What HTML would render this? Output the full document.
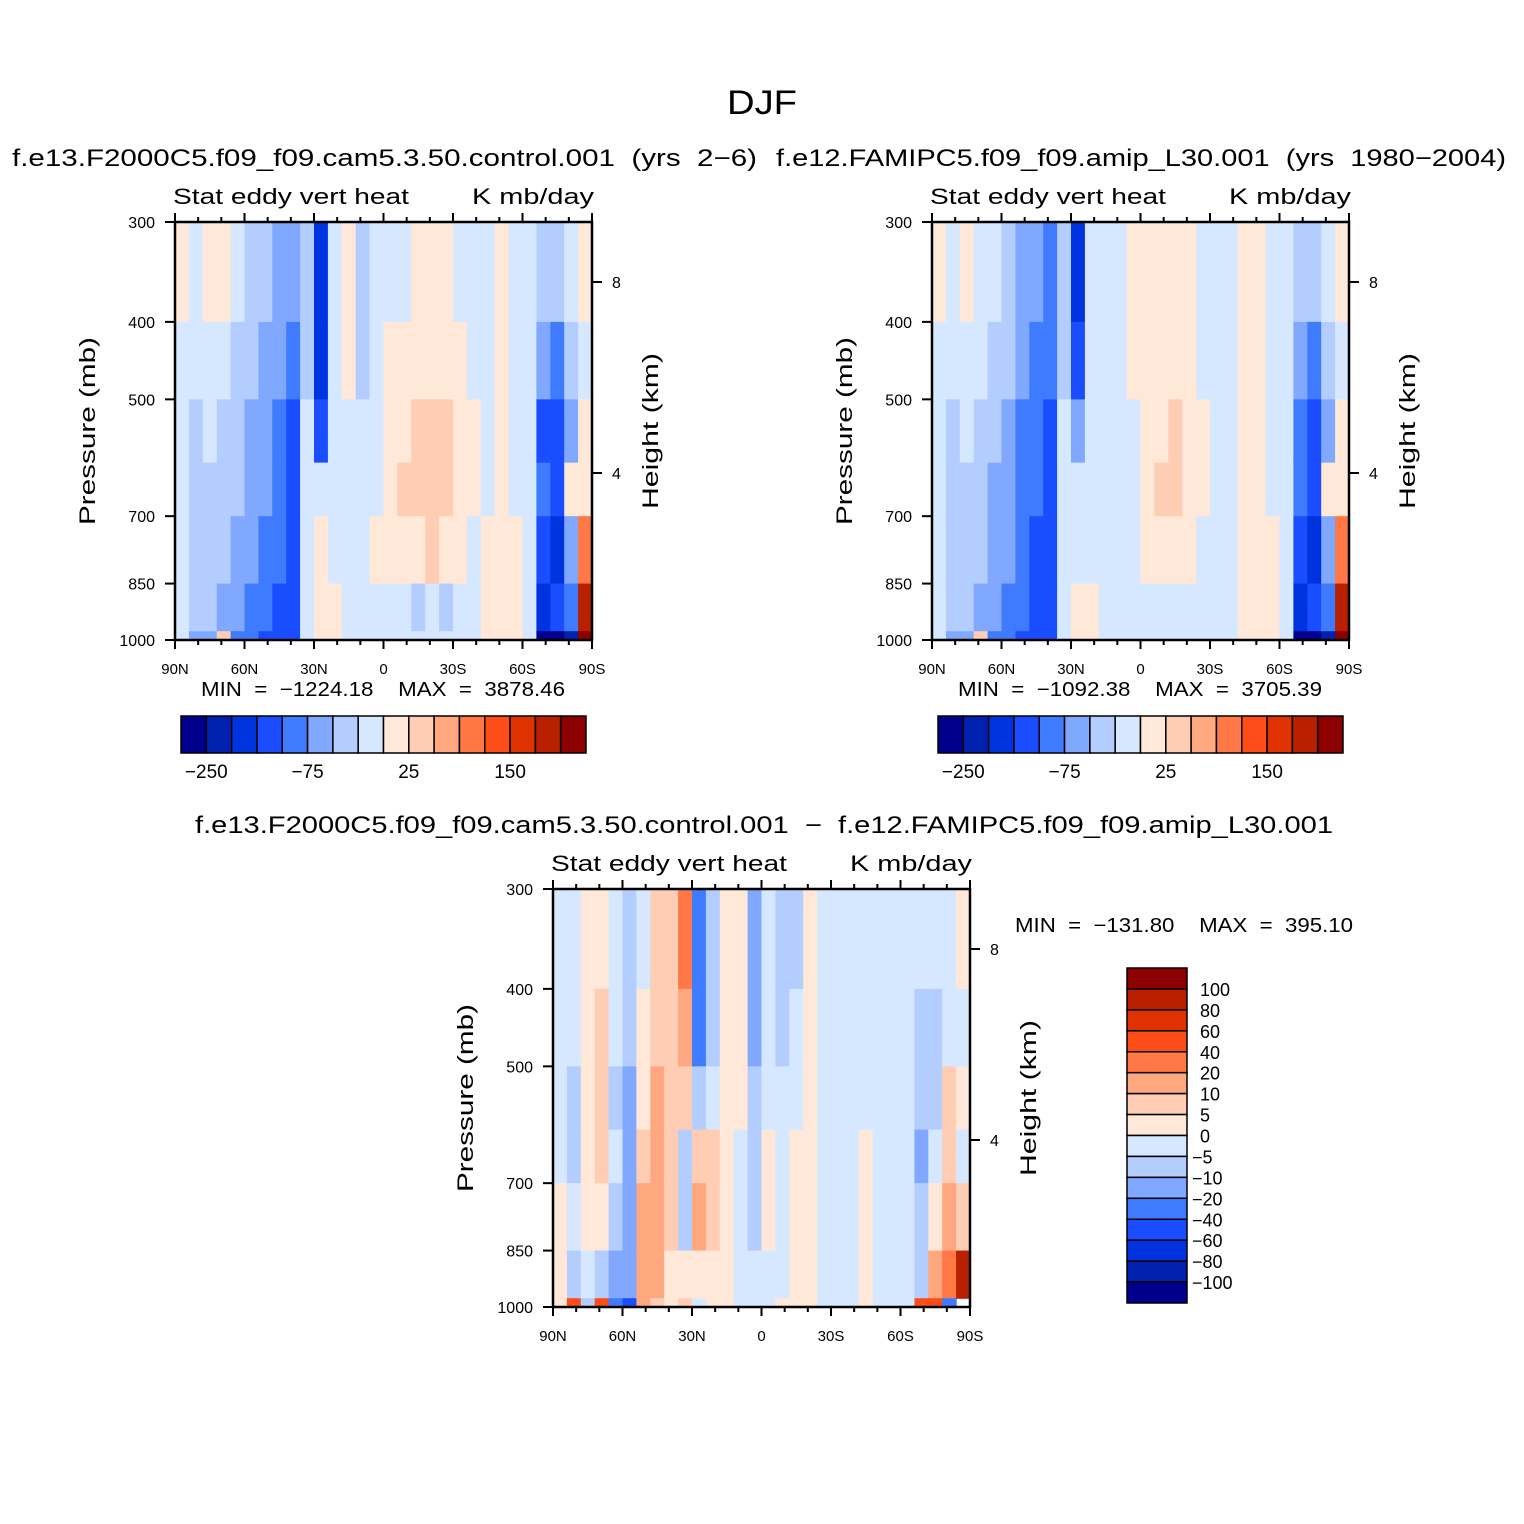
<!DOCTYPE html>
<html><head><meta charset="utf-8"><style>
html,body{margin:0;padding:0;background:#fff;}
svg{display:block;font-family:"Liberation Sans",sans-serif;}
text{white-space:pre;}
</style></head><body>
<svg id="fig" width="1524" height="1524" viewBox="0 0 1524 1524" xmlns="http://www.w3.org/2000/svg">
<text x="762" y="114" font-size="34" text-anchor="middle" textLength="70" lengthAdjust="spacingAndGlyphs">DJF</text>
<g id="root"></g>
</svg>
<script>
// ---- data ----
const lats = [90,84,78,72,66,60,54,48,42,36,30,24,18,12,6,0,-6,-12,-18,-24,-30,-36,-42,-48,-54,-60,-66,-72,-78,-84,-90];
const pEdges = [300,400,500,600,700,850,975,1000];
const levels1 = [-250,-200,-150,-100,-75,-50,-25,0,25,50,75,100,150,200,250];
const levels3 = [-100,-80,-60,-40,-20,-10,-5,0,5,10,20,40,60,80,100];
const cbLabels1 = ["−250","−75","25","150"];
const cbLabels3 = ["100","80","60","40","20","10","5","0","−5","−10","−20","−40","−60","−80","−100"];
const xTickLabels = ["90N","60N","30N","0","30S","60S","90S"];
const pTicks = [300,400,500,700,850,1000];
const hTicks = [8,4];
const colors = ["#00008c","#0021b0","#0033e0","#1a4dff","#3f7bff","#80a8ff","#b4cdff","#d6e8ff","#ffe8d8","#ffcdb3","#ffa880","#ff7845","#ff4d1a","#e03200","#b82000","#8c0000"];
// columns 90N->90S, each 7 rows top(300mb)->bottom(1000mb)
const data1 = [
[10,-10,-10,-10,-10,-10,-10],[-10,-10,-40,-40,-40,-40,-60],[10,-10,-10,-40,-40,-40,-60],[10,-10,-40,-40,-40,-60,40],
[-10,-40,-40,-40,-60,-60,-90],[-40,-40,-60,-60,-60,-90,-90],[-40,-60,-60,-60,-90,-90,-120],[-60,-60,-90,-90,-90,-120,-120],
[-60,-90,-120,-120,-120,-120,-120],[-40,-40,-10,-10,-10,-10,-10],[-170,-170,-120,-10,10,10,10],[-10,-10,-10,-10,-10,10,10],
[10,10,-10,-10,-10,-10,-10],[-40,-40,-10,-10,-10,-10,-10],[-10,-10,-10,-10,10,-10,-10],[-10,10,10,10,10,-10,-10],
[-10,10,10,40,10,-10,-10],[10,10,40,40,10,-40,-10],[10,10,40,40,40,-10,-10],[10,10,40,40,10,-40,-10],
[-10,10,10,10,10,-10,-10],[-10,-10,10,10,-10,-10,-10],[-10,-10,-10,-10,10,10,10],[10,10,10,10,10,10,10],
[-10,-10,-10,-10,10,10,10],[-10,-10,-10,-10,-10,-10,-10],[-40,-60,-120,-90,-120,-170,-300],[-40,-90,-120,-120,-170,-120,-300],
[-10,-40,-60,10,-60,-90,-250],[10,-10,10,10,90,200,300]];
const data2 = [
[10,-10,-10,-10,-10,-10,-10],[-10,-10,-40,-40,-40,-40,-60],[10,-10,-10,-40,-40,-40,-60],[-10,-10,-40,-40,-40,-60,40],
[-10,-40,-40,-60,-60,-60,-90],[-40,-40,-60,-60,-60,-90,-90],[-60,-60,-90,-90,-90,-90,-120],[-60,-90,-90,-90,-120,-120,-120],
[-90,-90,-120,-120,-120,-120,-120],[-40,-40,-10,-10,-10,-10,-10],[-170,-120,-60,-10,-10,10,10],[-10,-10,-10,-10,-10,10,10],
[-10,-10,-10,-10,-10,-10,-10],[-10,-10,-10,-10,-10,-10,-10],[10,10,-10,-10,-10,-10,-10],[10,10,10,10,10,-10,-10],
[10,10,10,40,10,-10,-10],[10,10,40,40,10,-10,-10],[10,10,10,10,10,-10,-10],[-10,-10,10,10,-10,-10,-10],
[-10,-10,-10,-10,-10,-10,-10],[-10,-10,-10,-10,-10,-10,-10],[10,10,10,10,10,10,10],[10,10,10,10,10,10,10],
[-10,-10,-10,-10,10,10,10],[-10,-10,-10,-10,-10,-10,-10],[-40,-60,-90,-90,-120,-170,-300],[-40,-90,-120,-120,-170,-120,-300],
[-10,-40,-60,10,-60,-90,-250],[10,-10,10,10,90,200,300]];
const data3 = [
[-2,-2,-2,-2,2,2,2],[-2,-2,-7,-7,-2,-7,50],[2,2,2,2,2,-2,-7],[2,7,7,7,2,-7,50],
[-2,-2,-7,-2,-7,-15,-30],[-7,-7,-15,-15,-15,-15,-60],[-2,2,2,7,15,15,15],[7,7,15,15,15,15,7],
[7,7,7,7,7,2,2],[30,15,7,-7,-7,2,7],[-30,-30,-7,7,15,2,-2],[-7,-7,-2,7,7,2,2],
[2,2,2,2,2,2,2],[2,2,2,-2,-2,-2,-2],[-15,-15,-7,-7,-7,-2,-2],[-2,-2,-2,2,2,-2,-2],
[-7,-7,-2,-2,-2,-2,2],[-7,-2,-2,2,2,2,2],[2,2,2,2,2,2,2],[-2,-2,-2,-2,-2,-2,-2],
[-2,-2,-2,-2,-2,-2,-2],[-2,-2,-2,-2,-2,-2,-2],[-2,-2,-2,2,2,2,2],[-2,-2,-2,-2,-2,-2,-2],
[-2,-2,-2,-2,-2,-2,-2],[-2,-2,-2,-2,-2,-2,-2],[-2,-7,-7,-15,-7,-7,50],[-2,-7,-7,-2,2,15,40],
[-2,-2,7,7,15,30,-30],[2,-2,2,-2,7,80,null]];

const NS="http://www.w3.org/2000/svg";
const root=document.getElementById('root');
function mk(tag,attrs,parent,txt){const e=document.createElementNS(NS,tag);for(const k in attrs)e.setAttribute(k,attrs[k]);if(txt!==undefined)e.textContent=txt;(parent||root).appendChild(e);return e;}
function colorFor(v,lv){if(v===null)return null;let i=0;while(i<lv.length&&v>=lv[i])i++;return colors[i];}

function panel(ox,oy,data,lv,name){
  const W=417,H=418;
  const xS=lat=>ox+(90-lat)/180*W;
  const yS=p=>oy+H-Math.log(1000/p)/Math.log(1000/300)*H;
  const hS=km=>oy+251-(km-4)*47.75;
  const g=mk('g',{},root);
  
  
  for(let c=0;c<data.length;c++){
    for(let r=0;r<pEdges.length-1;r++){
      const col=colorFor(data[c][r],lv); if(!col)continue;
      const x0=xS(lats[c]),x1=xS(lats[c+1]),y0=yS(pEdges[r]),y1=yS(pEdges[r+1]);
      const rc=mk('rect',{x:x0,y:y0,width:x1-x0+0.6,height:y1-y0+0.6,fill:col},g);
      
      
    }
  }
  const fr=mk('rect',{x:ox,y:oy,width:W,height:H,fill:'none',stroke:'#000','stroke-width':2.5},g);
  
  
  for(let lat=90;lat>=-90;lat-=10){
    const x=xS(lat),maj=lat%30===0,L=maj?9:5;
    mk('line',{x1:x,x2:x,y1:oy+H,y2:oy+H+L,stroke:'#000','stroke-width':2},g);
    mk('line',{x1:x,x2:x,y1:oy,y2:oy-L,stroke:'#000','stroke-width':2},g);
  }
  xTickLabels.forEach((t,i)=>{const tx=mk('text',{x:xS(90-30*i),y:oy+H+34,'font-size':15,'text-anchor':'middle'},g,t);
    });
  pTicks.forEach(p=>{const y=yS(p);mk('line',{x1:ox-10,x2:ox,y1:y,y2:y,stroke:'#000','stroke-width':2},g);
    const tx=mk('text',{x:ox-20,y:y+6,'font-size':16,'text-anchor':'end'},g,String(p));
    });
  hTicks.forEach(k=>{const y=hS(k);mk('line',{x1:ox+W,x2:ox+W+10,y1:y,y2:y,stroke:'#000','stroke-width':2},g);
    const tx=mk('text',{x:ox+W+20,y:y+6,'font-size':16},g,String(k));
    });
  let t=mk('text',{x:ox-2,y:oy-18,'font-size':22,textLength:236,lengthAdjust:'spacingAndGlyphs'},g,'Stat eddy vert heat');
  
  t=mk('text',{x:ox+W+2,y:oy-18,'font-size':22,'text-anchor':'end',textLength:122,lengthAdjust:'spacingAndGlyphs'},g,'K mb/day');
  
  t=mk('text',{x:0,y:0,'font-size':22,'text-anchor':'middle',transform:`translate(${ox-80},${oy+209}) rotate(-90)`,textLength:188,lengthAdjust:'spacingAndGlyphs'},g,'Pressure (mb)');
  
  t=mk('text',{x:0,y:0,'font-size':22,'text-anchor':'middle',transform:`translate(${ox+W+66},${oy+209}) rotate(-90)`,textLength:156,lengthAdjust:'spacingAndGlyphs'},g,'Height (km)');
  
}

function hbar(x,y,name){
  const g=mk('g',{},root);
  
  
  const bw=405/16;
  colors.forEach((c,i)=>{const r=mk('rect',{x:x+i*bw,y:y,width:bw,height:37,fill:c,stroke:'#000','stroke-width':1.5},g);
    });
  cbLabels1.forEach((l,i)=>{const t=mk('text',{x:x+(1+4*i)*bw,y:y+62,'font-size':19,'text-anchor':'middle'},g,l);
    });
}
function vbar(x,y){
  const g=mk('g',{},root);
  
  
  const bh=335/16;
  colors.slice().reverse().forEach((c,i)=>{const r=mk('rect',{x:x,y:y+i*bh,width:60,height:bh,fill:c,stroke:'#000','stroke-width':1.5},g);
    });
  cbLabels3.forEach((l,i)=>{const t=mk('text',{x:l.startsWith('−')?x+65:x+73,y:y+(i+1)*bh+7,'font-size':18},g,l);
    });
}
function txt(x,y,s,size,anchor,len,name){const t=mk('text',{x:x,y:y,'font-size':size,'text-anchor':anchor,textLength:len,lengthAdjust:'spacingAndGlyphs'},root,s);
  }

txt(12,166,'f.e13.F2000C5.f09_f09.cam5.3.50.control.001  (yrs  2−6)',24,'start',745,'left-panel-title');
txt(776,166,'f.e12.FAMIPC5.f09_f09.amip_L30.001  (yrs  1980−2004)',24,'start',730,'right-panel-title');
txt(195,833,'f.e13.F2000C5.f09_f09.cam5.3.50.control.001  −  f.e12.FAMIPC5.f09_f09.amip_L30.001',24,'start',1138,'diff-panel-title');
panel(175,222,data1,levels1,'control-panel');
panel(932,222,data2,levels1,'amip-panel');
panel(553,889,data3,levels3,'difference-panel');
txt(383,696,'MIN  =  −1224.18    MAX  =  3878.46',20,'middle',364,'left-min-max');
txt(1140,696,'MIN  =  −1092.38    MAX  =  3705.39',20,'middle',364,'right-min-max');
txt(1015,932,'MIN  =  −131.80    MAX  =  395.10',20,'start',338,'diff-min-max');
hbar(181,716,'left-colorbar');
hbar(938,716,'right-colorbar');
vbar(1127,968);
</script>
</body></html>
